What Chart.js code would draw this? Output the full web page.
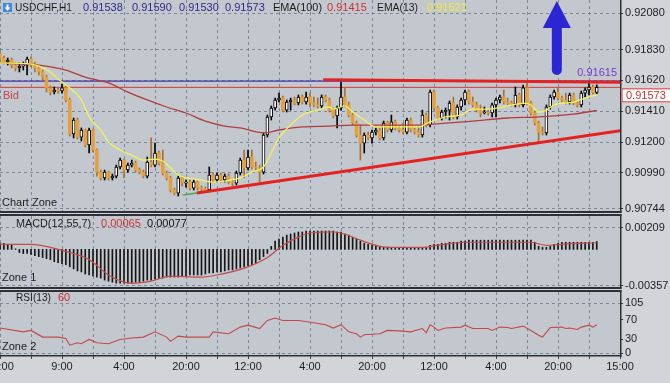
<!DOCTYPE html>
<html><head><meta charset="utf-8">
<script src="https://cdn.jsdelivr.net/npm/chart.js@4.4.1/dist/chart.umd.min.js"></script>
<style>
html,body{margin:0;padding:0;background:#d2d4d8;width:670px;height:383px;overflow:hidden;}
#wrap{position:relative;width:670px;height:383px;}
canvas{position:absolute;left:0;}
</style></head><body>
<div id="wrap">
<canvas id="cMain" width="670" height="216" style="top:0px"></canvas>
<canvas id="cMacd" width="670" height="76" style="top:213px"></canvas>
<canvas id="cRsi" width="670" height="94" style="top:289px"></canvas>
</div>
<script>
// ---------------- DATA ----------------
const symbolName = 'USDCHF,H1';
const firstOpen = 0.91800;
const candleCloses = [
0.91773,0.91746,0.91759,0.91725,0.91705,0.91718,0.91725,0.91766,0.91732,0.91705,
0.91678,0.91643,0.91569,0.91541,0.91555,0.91548,0.91569,0.91487,0.91255,0.91350,
0.91234,0.91282,0.91180,0.91282,0.91146,0.90995,0.90955,0.90995,0.90955,0.90968,
0.91030,0.91077,0.91009,0.91043,0.91057,0.91009,0.90995,0.90968,0.91064,0.91043,
0.91125,0.91057,0.90989,0.90955,0.90873,0.90852,0.90955,0.90920,0.90927,0.90886,
0.90927,0.90886,0.90880,0.90873,0.90975,0.90941,0.90975,0.90941,0.90968,0.90927,
0.90920,0.90989,0.91077,0.91023,0.91098,0.91030,0.91023,0.90995,0.91248,0.91371,
0.91432,0.91487,0.91500,0.91418,0.91473,0.91487,0.91466,0.91507,0.91473,0.91507,
0.91466,0.91453,0.91446,0.91507,0.91487,0.91418,0.91378,0.91432,0.91507,0.91453,
0.91384,0.91330,0.91248,0.91193,0.91248,0.91228,0.91268,0.91282,0.91228,0.91330,
0.91282,0.91337,0.91296,0.91282,0.91268,0.91350,0.91282,0.91268,0.91248,0.91384,
0.91316,0.91541,0.91432,0.91364,0.91405,0.91418,0.91466,0.91371,0.91439,0.91487,
0.91541,0.91473,0.91453,0.91418,0.91398,0.91405,0.91398,0.91453,0.91487,0.91507,
0.91473,0.91466,0.91459,0.91521,0.91453,0.91569,0.91466,0.91398,0.91330,0.91268,
0.91262,0.91439,0.91507,0.91541,0.91500,0.91487,0.91473,0.91521,0.91466,0.91453,
0.91534,0.91555,0.91575,0.91538,0.91573];
const candleHighs = [
0.91821,0.91787,0.91773,0.91773,0.91739,0.91739,0.91746,0.91780,0.91780,0.91746,
0.91718,0.91691,0.91657,0.91582,0.91575,0.91569,0.91596,0.91582,0.91500,0.91364,
0.91364,0.91296,0.91289,0.91296,0.91289,0.91153,0.91009,0.91009,0.91002,0.90982,
0.91043,0.91091,0.91084,0.91057,0.91077,0.91071,0.91023,0.91009,0.91098,0.91228,
0.91193,0.91139,0.91146,0.91002,0.90968,0.90886,0.90968,0.90968,0.90941,0.90941,
0.90941,0.90934,0.90900,0.90893,0.91030,0.90989,0.90989,0.90989,0.90982,0.90982,
0.90941,0.91002,0.91091,0.91146,0.91146,0.91146,0.91064,0.91043,0.91262,0.91384,
0.91446,0.91500,0.91534,0.91514,0.91487,0.91500,0.91507,0.91521,0.91521,0.91541,
0.91534,0.91507,0.91500,0.91521,0.91521,0.91500,0.91432,0.91446,0.91609,0.91569,
0.91473,0.91398,0.91343,0.91316,0.91262,0.91268,0.91282,0.91296,0.91296,0.91343,
0.91343,0.91384,0.91350,0.91309,0.91330,0.91364,0.91364,0.91296,0.91303,0.91418,
0.91398,0.91555,0.91555,0.91446,0.91418,0.91432,0.91480,0.91507,0.91453,0.91500,
0.91555,0.91555,0.91507,0.91473,0.91453,0.91439,0.91418,0.91466,0.91500,0.91521,
0.91555,0.91500,0.91480,0.91575,0.91534,0.91589,0.91609,0.91480,0.91412,0.91343,
0.91303,0.91453,0.91521,0.91555,0.91569,0.91514,0.91534,0.91534,0.91534,0.91480,
0.91548,0.91569,0.91603,0.91589,0.91590];
const candleLows = [
0.91746,0.91732,0.91725,0.91705,0.91684,0.91678,0.91691,0.91657,0.91712,0.91678,
0.91657,0.91623,0.91541,0.91521,0.91528,0.91534,0.91534,0.91473,0.91241,0.91228,
0.91221,0.91207,0.91166,0.91125,0.91132,0.90968,0.90941,0.90941,0.90941,0.90941,
0.90955,0.91016,0.90955,0.90995,0.91030,0.90995,0.90982,0.90955,0.90955,0.91030,
0.91030,0.91043,0.90975,0.90941,0.90859,0.90839,0.90832,0.90900,0.90893,0.90873,
0.90873,0.90873,0.90866,0.90859,0.90866,0.90927,0.90927,0.90927,0.90927,0.90914,
0.90900,0.90907,0.90975,0.90955,0.91009,0.91016,0.91009,0.90927,0.90982,0.91234,
0.91350,0.91418,0.91473,0.91405,0.91405,0.91418,0.91453,0.91453,0.91459,0.91459,
0.91439,0.91439,0.91432,0.91432,0.91473,0.91405,0.91364,0.91296,0.91418,0.91439,
0.91371,0.91316,0.91234,0.91077,0.91125,0.91214,0.91193,0.91248,0.91214,0.91214,
0.91268,0.91268,0.91282,0.91268,0.91255,0.91255,0.91268,0.91255,0.91234,0.91234,
0.91303,0.91303,0.91418,0.91350,0.91350,0.91364,0.91350,0.91357,0.91357,0.91418,
0.91453,0.91459,0.91439,0.91405,0.91371,0.91391,0.91384,0.91371,0.91371,0.91466,
0.91459,0.91453,0.91446,0.91439,0.91439,0.91439,0.91453,0.91384,0.91316,0.91200,
0.91248,0.91248,0.91425,0.91493,0.91487,0.91473,0.91459,0.91459,0.91453,0.91439,
0.91439,0.91507,0.91521,0.91528,0.91530];

const ema13Idx = [0,8,10,13,15,17,21,23,26,28,31,34,37,40,42,44,46,52,55,58,62,65,68,70,72,75,78,82,85,86,89,91,94,97,103,108,111,115,119,122,126,131,135,137,139,141,143,148,151,154];
const ema13Vals = [0.91739,0.91732,0.91718,0.91678,0.91630,0.91589,0.91487,0.91371,0.91282,0.91200,0.91146,0.91111,0.91077,0.91084,0.91071,0.91023,0.90975,0.90941,0.90927,0.90934,0.90955,0.90995,0.91030,0.91125,0.91228,0.91316,0.91384,0.91418,0.91439,0.91425,0.91446,0.91405,0.91350,0.91303,0.91303,0.91303,0.91337,0.91371,0.91384,0.91425,0.91425,0.91446,0.91466,0.91453,0.91405,0.91418,0.91453,0.91473,0.91500,0.91521];
const ema100Idx = [0,10,17,22,28,33,38,43,48,53,58,62,68,72,78,85,91,100,108,116,122,131,139,148,154];
const ema100Vals = [0.91739,0.91725,0.91691,0.91643,0.91603,0.91541,0.91487,0.91439,0.91398,0.91343,0.91309,0.91296,0.91262,0.91282,0.91303,0.91309,0.91316,0.91316,0.91316,0.91330,0.91343,0.91364,0.91371,0.91391,0.91415];

const purpleLevel = 0.91615;
const bidPrice = 0.91573;
const levelSpan = [0, 160];
const resistIdx = [83.4, 160.5];
const resistVals = [0.91625, 0.91607];
const supportIdx = [50.8, 160.5];
const supportVals = [0.90852, 0.91279];
const greenIdx = [47.2, 50.8];
const greenVals = [0.90839, 0.90852];
const arrowIdx = 143.7;
const arrowTopPrice = 0.92162;
const arrowBottomPrice = 0.91657;

const macdHist = [
0.0006,0.0006,0.0005,0.0004,0.00005,-0.0003,-0.0004,-0.0004,-0.0005,-0.0006,
-0.0007,-0.0008,-0.0009,-0.0010,-0.0012,-0.0013,-0.0014,-0.0015,-0.0017,-0.0019,
-0.0021,-0.0022,-0.0024,-0.0025,-0.0026,-0.0027,-0.0028,-0.0030,-0.0031,-0.0032,
-0.0033,-0.0033,-0.0033,-0.0033,-0.0033,-0.0032,-0.0032,-0.0031,-0.0030,-0.0030,
-0.0029,-0.0028,-0.0028,-0.0027,-0.0027,-0.0027,-0.0027,-0.0026,-0.0026,-0.0025,
-0.0025,-0.0025,-0.0025,-0.0024,-0.0023,-0.0023,-0.0022,-0.0022,-0.0021,-0.0020,
-0.0020,-0.0019,-0.0018,-0.0017,-0.0016,-0.0015,-0.0013,-0.0010,-0.0007,-0.0004,
0.0003,0.0008,0.0010,0.0012,0.0014,0.0015,0.0016,0.0017,0.0017,0.0018,
0.0018,0.0018,0.0018,0.0018,0.0018,0.0018,0.0018,0.0017,0.0017,0.0015,
0.0014,0.0012,0.0010,0.0008,0.0006,0.0005,0.0004,0.0003,0.0003,0.0002,
0.0002,0.0002,0.0002,0.0002,0.0002,0.0002,0.0002,0.0002,0.0002,0.0002,
0.0002,0.0004,0.0005,0.0005,0.0006,0.0006,0.0007,0.0007,0.0007,0.0008,
0.0008,0.0009,0.0009,0.0009,0.0009,0.0009,0.0009,0.0009,0.0009,0.0009,
0.0009,0.0009,0.0009,0.0009,0.0009,0.0009,0.0009,0.0009,0.0007,0.0003,
0.0002,0.0002,0.0003,0.0005,0.0006,0.0007,0.0007,0.0007,0.0007,0.0007,
0.0007,0.0007,0.0007,0.0007,0.00077];
const signalIdx = [0,8,15,23,28,32,34,39,44,52,56,64,69,73,77,80,86,88,93,98,102,109,113,120,137,141,145,154];
const signalVals = [0.0005,0.0005,0.0000,-0.0010,-0.0025,-0.0032,-0.0033,-0.0031,-0.0026,-0.0027,-0.0025,-0.0017,-0.0008,0.0004,0.0012,0.0016,0.0017,0.0016,0.0009,0.0003,0.0002,0.0002,0.0004,0.0007,0.0007,0.0004,0.0005,0.00065];

const rsiIdx = [0,6,8,11,15,17,18,20,21,23,25,28,31,34,37,40,43,44,46,48,54,55,59,62,64,67,69,71,73,77,81,84,86,88,90,92,93,94,98,100,103,106,109,110,111,112,113,115,119,120,122,126,127,129,131,132,135,137,139,140,142,145,146,147,149,150,152,153,154];
const rsiVals = [53,45,48,34,34,31,17,22,20,29,22,20,29,32,34,45,34,25,36,34,34,45,41,55,59,52,69,74,69,69,64,60,53,60,45,41,34,39,41,48,47,45,52,43,60,55,48,53,55,59,52,52,48,55,54,52,57,48,38,34,54,55,52,53,50,55,59,55,60];

const priceTicks = [0.90744, 0.90990, 0.91200, 0.91410, 0.91620, 0.91830, 0.92080];
const macdTicks = [-0.00357, 0.00209];
const rsiTicks = [0, 30, 70, 105];
const rsiGridLevels = [0, 105];
const xGridValues = [0,8,16,24,32,40,48,56,64,72,80,88,96,104,112,120,128,136,144,152,160];
const xTickLabels = ['17:00','','9:00','','4:00','','20:00','','12:00','','4:00','','20:00','','12:00','','4:00','','20:00','','15:00'];

// ---------------- STYLE ----------------
const FONT = "'Liberation Sans', Arial, sans-serif";
const PLOT_BG = '#c3c8cf';
const GRID = 'rgba(100,115,138,0.75)';
const BORDER = '#2c3037';
const BULL = '#ffffff', BULL_LINE = '#000000', BEAR = '#e4a03c', BEAR_LINE = '#a5722f';
Chart.defaults.font.family = FONT;
Chart.defaults.font.size = 11;
Chart.defaults.color = '#1e1e1e';

const candleOpens = [firstOpen].concat(candleCloses.slice(0, -1));
const candleIdx = candleCloses.map((_, i) => i);
const isBull = i => candleCloses[i] >= candleOpens[i];
const pts = (xs, ys) => xs.map((x, i) => ({x: x, y: ys[i]}));

function xScale(showLabels) {
  return {
    type: 'linear', min: 0, max: 160, offset: false,
    afterBuildTicks: s => { s.ticks = xGridValues.map(v => ({value: v})); },
    afterFit: s => { s.paddingLeft = 0; s.paddingRight = 0; s.height = showLabels ? 28 : 0; },
    grid: { display: true, offset: false, color: GRID, lineWidth: 1, drawTicks: showLabels, tickLength: 4, tickColor: '#444' },
    border: { display: false, dash: [3, 3] },
    ticks: { display: showLabels, autoSkip: false, maxRotation: 0, minRotation: 0, padding: 1, color: '#1e1e1e',
      font: {size: 11}, callback: v => xTickLabels[Math.round(v / 8)] || '' }
  };
}
function yScale(min, max, ticks, fmt, gridColor) {
  return {
    type: 'linear', position: 'right', min: min, max: max,
    afterBuildTicks: s => { s.ticks = ticks.map(v => ({value: v})); },
    afterFit: s => { s.width = 50; s.paddingTop = 0; s.paddingBottom = 0; },
    grid: { color: gridColor || GRID, drawTicks: true, tickLength: 3, tickColor: '#333', tickWidth: 1 },
    border: { display: false, dash: [3, 3] },
    ticks: { autoSkip: false, padding: 2, color: '#1e1e1e', font: {size: 11}, callback: fmt }
  };
}

const panelPlugin = {
  id: 'panel',
  beforeDraw(chart, args, o) {
    const {ctx, chartArea: a} = chart;
    ctx.save(); ctx.fillStyle = PLOT_BG;
    ctx.fillRect(a.left, a.top, a.right - a.left, a.bottom - a.top);
    ctx.restore();
  },
  afterDraw(chart, args, o) {
    const {ctx, chartArea: a} = chart;
    ctx.save(); ctx.fillStyle = BORDER;
    const t = o.top ? 2 : 0;
    ctx.fillRect(a.right, a.top - t, 1.5, a.bottom - a.top + t + 2);
    ctx.fillRect(a.left, a.bottom, a.right - a.left + 1.5, o.bottomW || 2);
    if (o.top) ctx.fillRect(a.left, a.top - 2, a.right - a.left + 1.5, 2);
    ctx.restore();
  }
};

function drawTexts(ctx, items, y) {
  items.forEach(it => {
    ctx.fillStyle = it.c;
    if (it.w) ctx.fillText(it.t, it.x, y, it.w); else ctx.fillText(it.t, it.x, y);
  });
}

const mainDecor = {
  id: 'mainDecor',
  afterDraw(chart) {
    const {ctx, chartArea: a, scales} = chart;
    const xs = scales.x, ys = scales.y;
    ctx.save();
    // arrow
    const cx = xs.getPixelForValue(arrowIdx);
    const yt = ys.getPixelForValue(arrowTopPrice), yb = ys.getPixelForValue(arrowBottomPrice);
    ctx.fillStyle = '#2a26d4';
    ctx.beginPath();
    ctx.moveTo(cx, yt); ctx.lineTo(cx + 14, yt + 27); ctx.lineTo(cx - 14, yt + 27); ctx.closePath(); ctx.fill();
    ctx.beginPath();
    ctx.moveTo(cx - 5, yt + 25); ctx.lineTo(cx + 5, yt + 25); ctx.lineTo(cx + 5, yb - 5);
    ctx.arc(cx, yb - 5, 5, 0, Math.PI); ctx.closePath(); ctx.fill();

    ctx.font = '11px ' + FONT; ctx.textBaseline = 'middle'; ctx.textAlign = 'left';
    // icon
    ctx.fillStyle = '#3f8ad9'; ctx.fillRect(3, 3, 9, 9);
    ctx.fillStyle = '#ffffff';
    ctx.fillRect(6.5, 4.5, 2, 4);
    ctx.beginPath(); ctx.moveTo(4.5, 7.5); ctx.lineTo(10.5, 7.5); ctx.lineTo(7.5, 10.8); ctx.closePath(); ctx.fill();
    const L = candleCloses.length - 1;
    const f5 = v => v.toFixed(5);
    const hy = a.top + 8;
    drawTexts(ctx, [
      {t: symbolName, x: 15, c: '#1c1c1c', w: 57},
      {t: f5(candleOpens[L]), x: 83, c: '#2b2b8a'},
      {t: f5(candleHighs[L]), x: 132, c: '#2b2b8a'},
      {t: f5(candleLows[L]), x: 179, c: '#2b2b8a'},
      {t: f5(candleCloses[L]), x: 225, c: '#2b2b8a'},
      {t: 'EMA(100)', x: 273, c: '#1c1c1c', w: 49},
      {t: f5(ema100Vals[ema100Vals.length - 1]), x: 327, c: '#cf3030'},
      {t: 'EMA(13)', x: 377, c: '#1c1c1c', w: 41},
      {t: f5(ema13Vals[ema13Vals.length - 1]), x: 427, c: '#eeee30'}
    ], hy);
    // Chart Zone, Bid
    ctx.fillStyle = '#1c1c1c'; ctx.fillText('Chart Zone', 2, a.bottom - 8);
    const by = ys.getPixelForValue(bidPrice);
    ctx.fillStyle = '#c84444'; ctx.fillText('Bid', 3, by + 9);
    // purple level label
    const py = ys.getPixelForValue(purpleLevel);
    ctx.fillStyle = '#7a3cc8'; ctx.textAlign = 'right';
    ctx.fillText(purpleLevel.toFixed(5), a.right - 3, py - 8);
    // bid box on axis
    ctx.textAlign = 'left';
    ctx.fillStyle = '#ffffff'; ctx.fillRect(a.right + 1.5, by + 1, 49, 14);
    ctx.strokeStyle = '#d03030'; ctx.lineWidth = 1;
    ctx.strokeRect(a.right + 2, by + 1.5, 49, 13);
    ctx.fillStyle = '#cc3030'; ctx.fillText(bidPrice.toFixed(5), a.right + 6, by + 8.5);
    ctx.restore();
  }
};

const macdDecor = {
  id: 'macdDecor',
  afterDraw(chart) {
    const {ctx, chartArea: a} = chart;
    ctx.save(); ctx.font = '11px ' + FONT; ctx.textBaseline = 'middle'; ctx.textAlign = 'left';
    drawTexts(ctx, [
      {t: 'MACD(12,55,7)', x: 16, c: '#1c1c1c', w: 75},
      {t: signalVals[signalVals.length - 1].toFixed(5), x: 101, c: '#cf3030'},
      {t: macdHist[macdHist.length - 1].toFixed(5), x: 147, c: '#111111'}
    ], a.top + 8);
    ctx.fillStyle = '#1c1c1c'; ctx.fillText('Zone 1', 2, a.bottom - 9);
    ctx.restore();
  }
};
const rsiDecor = {
  id: 'rsiDecor',
  afterDraw(chart) {
    const {ctx, chartArea: a} = chart;
    ctx.save(); ctx.font = '11px ' + FONT; ctx.textBaseline = 'middle'; ctx.textAlign = 'left';
    drawTexts(ctx, [
      {t: 'RSI(13)', x: 16, c: '#1c1c1c', w: 35},
      {t: String(rsiVals[rsiVals.length - 1]), x: 58, c: '#cf3030'}
    ], a.top + 6);
    ctx.fillStyle = '#1c1c1c'; ctx.fillText('Zone 2', 2, a.bottom - 8);
    ctx.restore();
  }
};

const baseOpts = {
  responsive: false, animation: false, devicePixelRatio: 1, events: [],
  plugins: { legend: {display: false}, tooltip: {enabled: false} }
};

// main chart
new Chart(document.getElementById('cMain'), {
  type: 'bar',
  data: { datasets: [
    {type: 'line', data: pts(resistIdx, resistVals), borderColor: '#e52222', borderWidth: 3, pointRadius: 0, order: 0},
    {type: 'line', data: pts(supportIdx, supportVals), borderColor: '#e52222', borderWidth: 3, pointRadius: 0, order: 0},
    {type: 'line', data: pts(greenIdx, greenVals), borderColor: '#55a055', borderWidth: 1.5, pointRadius: 0, order: 0},
    {type: 'line', data: pts(ema13Idx, ema13Vals), borderColor: '#f2f25a', borderWidth: 1.3, pointRadius: 0, cubicInterpolationMode: 'monotone', order: 1},
    {type: 'line', data: pts(ema100Idx, ema100Vals), borderColor: '#b23c3c', borderWidth: 1.3, pointRadius: 0, cubicInterpolationMode: 'monotone', order: 1},
    {type: 'bar', data: candleIdx.map(i => ({x: i, y: [candleOpens[i], candleCloses[i]]})),
      backgroundColor: c => isBull(c.dataIndex) ? BULL : BEAR,
      borderColor: c => isBull(c.dataIndex) ? BULL_LINE : BEAR,
      borderWidth: c => isBull(c.dataIndex) ? 1 : 0,
      borderSkipped: false, barThickness: 3, minBarLength: 1, grouped: false, order: 2},
    {type: 'bar', data: candleIdx.map(i => ({x: i, y: [candleLows[i], candleHighs[i]]})),
      backgroundColor: c => isBull(c.dataIndex) ? BULL_LINE : BEAR_LINE,
      borderWidth: 0, barThickness: 1, grouped: false, order: 3},
    {type: 'line', data: levelSpan.map(x => ({x: x, y: purpleLevel})), borderColor: '#4636a8', borderWidth: 1.2, pointRadius: 0, order: 5},
    {type: 'line', data: levelSpan.map(x => ({x: x, y: bidPrice})), borderColor: '#d23a3a', borderWidth: 1, pointRadius: 0, order: 5}
  ]},
  options: Object.assign({}, baseOpts, {
    layout: {padding: {left: 0, right: 0, top: 0, bottom: 5}},
    scales: {
      x: xScale(false),
      y: yScale(0.921687 - 0.0000682 * 211, 0.921687, priceTicks, v => Number(v).toFixed(5))
    },
    plugins: Object.assign({}, baseOpts.plugins, {panel: {top: false}})
  }),
  plugins: [panelPlugin, mainDecor]
});

// MACD chart
new Chart(document.getElementById('cMacd'), {
  type: 'bar',
  data: { datasets: [
    {type: 'line', data: pts(signalIdx, signalVals), borderColor: '#c24a4a', borderWidth: 1.2, pointRadius: 0, cubicInterpolationMode: 'monotone', order: 0},
    {type: 'bar', data: candleIdx.map(i => ({x: i, y: macdHist[i]})), backgroundColor: '#151515', barThickness: 1, grouped: false, order: 1}
  ]},
  options: Object.assign({}, baseOpts, {
    layout: {padding: {left: 0, right: 0, top: 3, bottom: 2}},
    scales: {
      x: xScale(false),
      y: yScale(-0.00367, 0.00326, macdTicks, v => Number(v).toFixed(5))
    },
    plugins: Object.assign({}, baseOpts.plugins, {panel: {top: true}})
  }),
  plugins: [panelPlugin, macdDecor]
});

// RSI chart
new Chart(document.getElementById('cRsi'), {
  type: 'line',
  data: { datasets: [
    {data: pts(rsiIdx, rsiVals), borderColor: '#c44848', borderWidth: 1.1, pointRadius: 0, tension: 0}
  ]},
  options: Object.assign({}, baseOpts, {
    layout: {padding: {left: 0, right: 0, top: 3, bottom: 0}},
    scales: {
      x: xScale(true),
      y: yScale(-3.6, 128.7, rsiTicks, v => String(v),
        c => (c.tick && rsiGridLevels.indexOf(c.tick.value) >= 0) ? GRID : 'rgba(0,0,0,0)')
    },
    plugins: Object.assign({}, baseOpts.plugins, {panel: {top: true, bottomW: 1.5}})
  }),
  plugins: [panelPlugin, rsiDecor]
});
</script>
</body></html>
